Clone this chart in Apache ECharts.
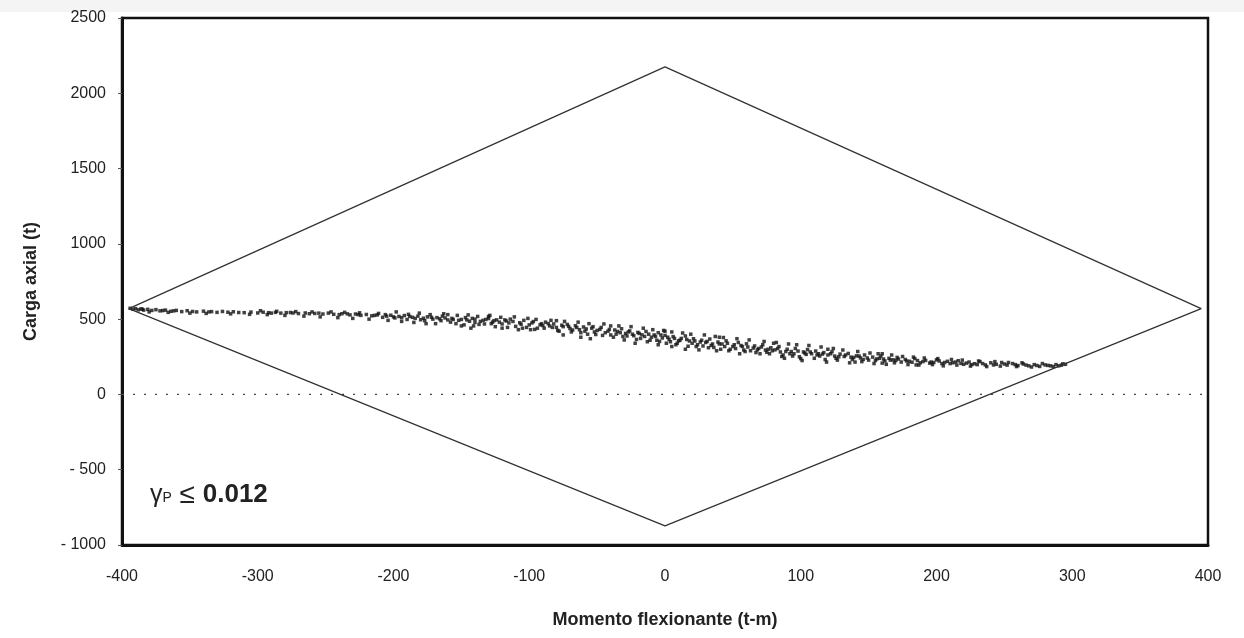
<!DOCTYPE html>
<html>
<head>
<meta charset="utf-8">
<script src="https://cdn.jsdelivr.net/npm/echarts@6/dist/echarts.min.js"></script>
<style>
  html, body { margin: 0; padding: 0; background: #fff; }
  #chart { width: 1244px; height: 638px; }
</style>
</head>
<body>
<div id="chart"></div>
<script>
// ejes
const xTicks = [-400, 400, 100];
const yTicks = [-1000, 2500, 500];

// diagrama de interacción (rombo)
const envelope = [[-395, 570], [0, 2175], [395, 570], [0, -873], [-395, 570]];

// línea de carga cero
const zeroLine = [[-400, 0], [400, 0]];

// puntos (momento, carga)
const points = [
  [-394,572],[-392,566],[-390,570],[-388,562],[-386,568],[-384,560],[-381,565],[-378,558],[-375,563],[-372,555],
  [-368,560],[-364,552],[-360,558],[-356,550],[-352,556],[-345,548],[-340,553],[-336,548],[-330,545],[-326,551],
  [-318,549],[-314,544],[-305,547],[-300,541],[-296,546],[-292,543],[-287,545],[-283,540],[-279,543],[-274,541],
  [-270,537],[-265,541],[-258,538],[-252,534],[-248,540],[-244,532],[-238,536],[-232,528],[-228,534],[-224,525],
  [-220,531],[-216,522],[-212,528],[-208,512],[-205,520],[-202,526],[-199,508],[-196,518],[-192,524],[-190,498],
  [-186,512],[-182,520],[-178,506],[-175,515],[-171,500],[-168,510],[-164,520],[-160,495],[-157,505],[-154,470],
  [-150,498],[-147,510],[-144,486],[-140,500],[-137,465],[-134,492],[-130,504],[-127,480],[-124,495],[-120,468],
  [-117,488],[-114,500],[-110,452],[-107,476],[-104,492],[-100,462],[-97,484],[-94,440],[-91,470],[-88,480],
  [-85,455],[-82,468],[-78,420],[-75,450],[-72,465],[-70,438],[-66,456],[-63,430],[-60,448],[-57,400],
  [-54,440],[-50,425],[-47,445],[-44,410],[-41,432],[-38,380],[-35,418],[-32,436],[-29,405],[-26,422],
  [-23,390],[-20,412],[-17,396],[-14,418],[-11,360],[-8,395],[-5,410],[-2,375],[0,392],[3,366],
  [6,384],[9,340],[12,372],[15,388],[18,355],[21,370],[24,330],[27,360],[30,345],[33,368],
  [36,312],[39,348],[42,335],[45,356],[48,300],[51,330],[54,345],[57,318],[60,336],[63,290],
  [66,322],[69,305],[72,330],[75,280],[78,310],[81,296],[84,318],[87,262],[90,300],[93,285],
  [96,305],[99,250],[102,282],[105,298],[108,270],[111,288],[114,255],[117,278],[120,262],[123,284],
  [126,240],[129,268],[132,252],[135,272],[138,232],[141,256],[144,242],[147,262],[150,228],[153,248],
  [156,236],[159,255],[162,222],[165,240],[168,230],[171,246],[174,215],[177,232],[180,220],[184,238],
  [188,210],[192,226],[196,215],[200,230],[204,205],[208,220],[212,210],[216,224],[220,200],[224,215],
  [228,204],[232,218],[236,196],[240,210],[244,200],[248,212],[252,195],[256,205],[260,192],[264,202],
  [268,190],[272,198],[276,186],[280,196],[284,190],[288,198],[292,194],[295,200],
  [-180,496],[-165,490],[-152,492],[-140,478],[-128,470],[-115,475],[-102,445],[-96,432],[-90,458],[-80,445],
  [-68,428],[-62,410],[-52,415],[-46,392],[-36,400],[-28,388],[-18,372],[-10,380],[-4,352],[4,350],
  [10,356],[20,340],[28,322],[35,335],[44,318],[52,305],[58,295],[68,296],[76,300],[85,282],
  [95,270],[104,266],[113,270],[125,255],[137,248],[146,232],[158,240],[170,225],[182,214],[195,208],
  [206,212],[218,206],[230,198],
  [-176,470],[-150,455],[-143,440],[-120,440],[-108,430],[-75,395],[-62,380],[-55,370],[-30,362],[-22,340],
  [-5,330],[5,318],[15,300],[25,296],[38,290],[55,270],[70,270],[86,252],[100,238],[118,232],
  [140,215],[160,208],[185,196],
  [-160,530],[-130,518],[-80,490],[-40,455],[0,420],[40,380],[80,340],[120,300],[160,270],
  [-385,566],[-370,557],[-362,555],[-348,551],[-334,550],[-322,546],[-310,543],[-290,540],[-276,544],[-262,536],
  [-255,540],[-240,530],[-234,535],[-226,530],[-214,525],[-206,530],[-200,515],[-194,510],[-188,518],[-184,505],
  [-172,512],[-166,502],[-162,508],[-156,498],[-146,495],[-142,505],[-136,485],[-132,498],[-126,490],[-122,480],
  [-118,495],[-112,485],[-106,466],[-98,475],[-92,462],[-86,470],[-83,445],[-76,460],[-71,452],[-65,445],
  [-58,435],[-53,450],[-48,432],[-42,420],[-37,428],[-33,410],[-27,415],[-24,400],[-19,405],[-15,385],
  [-12,400],[-7,385],[-3,395],[2,380],[7,372],[11,360],[16,365],[22,355],[26,348],[31,352],
  [34,325],[40,335],[46,340],[50,318],[56,325],[61,315],[65,308],[71,315],[74,295],[79,290],
  [83,305],[89,285],[92,270],[98,288],[103,275],[107,282],[112,262],[116,268],[122,270],[128,250],
  [133,262],[139,245],[143,255],[149,242],[155,225],[161,235],[166,228],[172,235],[178,222],[186,225],
  [190,218],[198,212],[202,222],[210,205],[214,215],[222,208],[226,198],[234,205],[242,196],[250,202],
  [258,198],[266,195],[274,192],[282,193],[290,190],
  [-380,548],[-366,545],[-350,540],[-338,538],[-320,535],[-306,532],
  [-298,556],[-293,530],[-286,552],[-280,525],[-272,550],[-266,520],[-260,548],[-254,515],[-246,548],[-241,510],
  [-236,545],[-230,505],[-225,542],[-218,500],[-211,538],[-204,492],
  [-198,548],[-194,485],[-189,532],[-185,478],[-181,540],[-177,490],[-173,530],[-169,470],[-163,536],[-158,480],
  [-153,525],[-148,462],[-145,528],[-141,455],[-138,518],[-133,468],[-129,525],[-125,450],[-121,512],[-116,445],
  [-111,515],[-105,440],[-101,505],
  [-99,430],[-95,498],[-89,440],[-84,492],[-79,425],[-74,485],[-69,415],[-64,480],[-59,420],[-56,470],
  [-51,398],[-45,468],[-40,395],[-34,455],[-31,385],[-25,450],[-21,365],[-16,440],[-13,350],[-9,430],
  [-6,360],[-1,425],
  [1,340],[5,415],[8,330],[13,408],[17,320],[19,400],[23,318],[29,395],[32,310],[37,385],
  [41,300],[43,378],[47,290],[53,370],[59,285],[62,362],[67,278],[73,352],[77,270],[82,345],
  [88,240],[91,335],[94,255],[97,330],
  [101,225],[106,325],[110,240],[115,315],[119,215],[124,305],[127,228],[131,295],[136,210],[142,285],
  [145,218],[151,275],[154,205],[157,270],[163,200],[167,262],[169,210],[175,252],[179,198],[183,248],
  [187,195],[191,242],[197,198],[201,238],
  [205,190],[211,232],[215,195],[219,228],[225,188],[231,222],[237,185],[243,218],[247,188],[253,212],
  [259,185],[263,210],[270,182],[278,205],[286,185],[293,203]
];

const chart = echarts.init(document.getElementById('chart'));

const font = '"Liberation Sans", Arial, sans-serif';

const option = {
  backgroundColor: '#fff',
  animation: false,
  grid: {
    left: 122, right: 36, top: 18, bottom: 93,
    show: true,
    borderColor: '#111',
    borderWidth: 2.5,
    backgroundColor: 'transparent'
  },
  xAxis: {
    type: 'value',
    min: xTicks[0], max: xTicks[1], interval: xTicks[2],
    name: 'Momento flexionante (t-m)',
    nameLocation: 'middle',
    nameGap: 66,
    nameTextStyle: { fontFamily: font, fontSize: 18, fontWeight: 'bold', color: '#222' },
    axisLine: { onZero: false, lineStyle: { color: '#111', width: 3 } },
    axisTick: { show: false },
    axisLabel: { fontFamily: font, fontSize: 16, color: '#222', margin: 24 },
    splitLine: { show: false }
  },
  yAxis: {
    type: 'value',
    min: yTicks[0], max: yTicks[1], interval: yTicks[2],
    name: 'Carga axial (t)',
    nameLocation: 'middle',
    nameGap: 82,
    nameTextStyle: { fontFamily: font, fontSize: 18, fontWeight: 'bold', color: '#222' },
    axisLine: { onZero: false, lineStyle: { color: '#111', width: 3 } },
    axisTick: { show: true, length: 4, lineStyle: { color: '#555', width: 1 } },
    axisLabel: {
      fontFamily: font, fontSize: 16, color: '#222', margin: 16,
      formatter: v => (v < 0 ? '- ' + Math.abs(v) : String(v))
    },
    splitLine: { show: false }
  },
  series: [
    {
      name: 'Cero',
      type: 'line',
      data: zeroLine,
      showSymbol: false,
      lineStyle: { color: '#444', width: 1.3, type: [2, 9] },
      silent: true
    },
    {
      name: 'Diagrama',
      type: 'line',
      data: envelope,
      showSymbol: false,
      lineStyle: { color: '#333', width: 1.3 },
      silent: true
    },
    {
      name: 'Puntos',
      type: 'scatter',
      data: points,
      symbol: 'rect',
      symbolSize: 3.5,
      itemStyle: { color: '#111' }
    }
  ],
  graphic: [
    {
      type: 'rect',
      left: 0, top: 0,
      shape: { width: 1244, height: 12 },
      style: { fill: '#f4f4f4' },
      silent: true
    },
    {
      type: 'text',
      left: 150, top: 481,
      style: {
        text: '{g|γ}{p|P}{s| ≤ }{v|0.012}',
        rich: {
          g: { fontFamily: font, fontSize: 25, fill: '#222' },
          p: { fontFamily: font, fontSize: 14, fill: '#222', padding: [6, 0, 0, 0] },
          s: { fontFamily: font, fontSize: 28, fill: '#222' },
          v: { fontFamily: font, fontSize: 26, fontWeight: 'bold', fill: '#222' }
        }
      }
    }
  ]
};

chart.setOption(option);
window.addEventListener('resize', () => chart.resize());
</script>
</body>
</html>
